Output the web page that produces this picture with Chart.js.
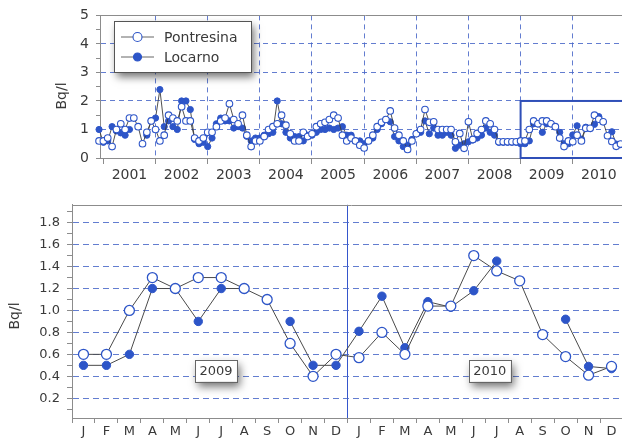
<!DOCTYPE html>
<html>
<head>
<meta charset="utf-8">
<script src="https://cdn.jsdelivr.net/npm/chart.js@4.4.0/dist/chart.umd.min.js"></script>
<style>
  html, body { margin: 0; padding: 0; background: #fff; width: 622px; height: 439px; overflow: hidden; }
  .panel { position: absolute; left: 0; width: 630px; }
  #overview-wrap { top: 0; height: 190px; }
  #detail-wrap { top: 190px; height: 249px; }
</style>
</head>
<body>
<div class="panel" id="overview-wrap"><canvas id="overview"></canvas></div>
<div class="panel" id="detail-wrap"><canvas id="detail"></canvas></div>
<script>
// ---- data (Bq/l, monthly) ----
const seriesNames = ['Pontresina', 'Locarno'];
const overviewYears = ['2001', '2002', '2003', '2004', '2005', '2006', '2007', '2008', '2009', '2010'];
const overviewYLabels = ['0', '1', '2', '3', '4', '5'];
const monthLetters = ['J', 'F', 'M', 'A', 'M', 'J', 'J', 'A', 'S', 'O', 'N', 'D'];
const detailYLabels = ['0.2', '0.4', '0.6', '0.8', '1.0', '1.2', '1.4', '1.6', '1.8'];

// Dec 2000 .. Dec 2008
const pontresinaHistory = [
  0.6,
  0.6, 0.7, 0.4, 1.0, 1.2, 1.0, 1.4, 1.4, 1.1, 0.5, 0.9, 1.3,
  1.0, 0.6, 0.8, 1.5, 1.4, 1.3, 1.8, 1.3, 1.3, 0.7, 0.6, 0.7,
  0.9, 0.9, 1.1, 1.3, 1.4, 1.9, 1.35, 1.2, 1.5, 0.8, 0.4, 0.6,
  0.6, 0.75, 1.0, 1.1, 1.2, 1.5, 1.15, 0.85, 0.6, 0.6, 0.9, 0.75,
  0.85, 1.1, 1.2, 1.25, 1.35, 1.5, 1.4, 0.8, 0.6, 0.7, 0.6, 0.45,
  0.35, 0.6, 0.8, 1.1, 1.25, 1.35, 1.65, 1.05, 0.8, 0.6, 0.3, 0.6,
  0.85, 1.0, 1.7, 1.25, 1.27, 1.0, 1.0, 1.0, 1.0, 0.57, 0.86, 0.34,
  1.27, 0.65, 0.86, 1.0, 1.3, 1.2, 1.0, 0.57, 0.57, 0.57, 0.57, 0.57
];
const locarnoHistory = [
  1.0,
  0.55, 0.6, 1.1, 0.95, 0.88, 0.8, 1.0, null, null, null, 0.8, 1.3,
  1.4, 2.4, 1.1, 1.3, 1.1, 1.0, 2.0, 2.0, 1.7, 0.65, 0.5, 0.55,
  0.4, 0.7, 1.2, 1.4, 1.3, 1.3, 1.05, 1.1, 1.05, 0.76, 0.6, 0.7,
  0.7, 0.8, 0.85, 0.9, 2.0, 1.2, 0.9, 0.7, 0.75, 0.75, 0.6, 0.8,
  0.8, 0.9, 1.0, 1.0, 1.05, 1.0, 1.05, 1.1, 0.8, 0.8, 0.6, 0.6,
  0.5, 0.6, 0.7, 1.0, 1.2, 1.35, 1.27, 0.75, 0.6, 0.4, 0.45, 0.65,
  0.85, 0.9, 1.3, 0.85, 1.05, 0.8, 0.8, 0.9, 0.8, 0.34, 0.45, 0.5,
  0.57, 0.63, 0.7, 0.8, 1.05, 0.9, 0.8, 0.55, 0.55, 0.55, 0.55, 0.55
];
const pontresina2009 = [0.6, 0.6, 1.0, 1.3, 1.2, 1.3, 1.3, 1.2, 1.1, 0.7, 0.4, 0.6];
const locarno2009 = [0.5, 0.5, 0.6, 1.2, 1.2, 0.9, 1.2, 1.2, null, 0.9, 0.5, 0.5];
const pontresina2010 = [0.57, 0.8, 0.6, 1.04, 1.04, 1.5, 1.36, 1.27, 0.78, 0.58, 0.41, 0.49];
const locarno2010 = [0.81, 1.13, 0.66, 1.08, 1.03, 1.18, 1.45, null, null, 0.92, 0.49, 0.47];

const pontresinaAll = [...pontresinaHistory, ...pontresina2009, ...pontresina2010];
const locarnoAll = [...locarnoHistory, ...locarno2009, ...locarno2010];

// ---- style ----
const fontFamily = '"DejaVu Sans", Verdana, sans-serif';
const textColor = '#3a3a3a';
const axisGray = '#8c8c8c';
const markerBlue = '#2d55c8';
const lineGray = '#3c3c3c';
const gridBlue = 'rgba(72, 102, 200, 0.85)';

// month n after Dec 2000 -> decimal year (month start)
function toPoints(values) {
  return values.map((v, i) => ({ x: 2000 + (11 + i) / 12, y: v }));
}

function sideTitle(id, text, x, y) {
  return {
    id,
    afterDraw(chart) {
      const ctx = chart.ctx;
      ctx.save();
      ctx.translate(x, y);
      ctx.rotate(-Math.PI / 2);
      ctx.font = '14px ' + fontFamily;
      ctx.fillStyle = textColor;
      ctx.textAlign = 'center';
      ctx.textBaseline = 'middle';
      ctx.fillText(text, 0, 0);
      ctx.restore();
    }
  };
}

const topFrame = {
  id: 'topFrame',
  beforeDatasetsDraw(chart) {
    const { ctx, chartArea } = chart;
    ctx.save();
    ctx.strokeStyle = axisGray;
    ctx.lineWidth = 1;
    ctx.beginPath();
    ctx.moveTo(chartArea.left, Math.round(chartArea.top) + 0.5);
    ctx.lineTo(chartArea.right + 10, Math.round(chartArea.top) + 0.5);
    ctx.stroke();
    ctx.restore();
  }
};

// blue frame around 2009-2010 in the overview
const highlight = {
  id: 'highlight',
  beforeDatasetsDraw(chart) {
    const { ctx, chartArea, scales } = chart;
    const x0 = scales.x.getPixelForValue(2009);
    const yTop = scales.y.getPixelForValue(2);
    const yBottom = scales.y.getPixelForValue(0);
    ctx.save();
    ctx.strokeStyle = '#2f4fb8';
    ctx.lineWidth = 2;
    ctx.strokeRect(x0, yTop, chartArea.right + 20 - x0, yBottom - yTop);
    ctx.restore();
  }
};

function drawMarker(ctx, x, y, filled) {
  ctx.beginPath();
  ctx.arc(x, y, filled ? 4 : 4.5, 0, Math.PI * 2);
  ctx.fillStyle = filled ? markerBlue : '#fff';
  ctx.fill();
  ctx.lineWidth = 1.1;
  ctx.strokeStyle = markerBlue;
  ctx.stroke();
}

const boxLegend = {
  id: 'boxLegend',
  afterDraw(chart) {
    const ctx = chart.ctx;
    ctx.save();
    ctx.shadowColor = 'rgba(0,0,0,0.55)';
    ctx.shadowBlur = 8;
    ctx.shadowOffsetX = 3;
    ctx.shadowOffsetY = 5;
    ctx.fillStyle = '#fff';
    ctx.fillRect(114, 21, 137, 51);
    ctx.restore();
    ctx.save();
    ctx.strokeStyle = '#555';
    ctx.lineWidth = 1;
    ctx.strokeRect(114.5, 21.5, 137, 51);
    seriesNames.forEach((name, i) => {
      const y = 37 + i * 20;
      ctx.strokeStyle = '#666';
      ctx.lineWidth = 1;
      ctx.beginPath();
      ctx.moveTo(121, y);
      ctx.lineTo(154, y);
      ctx.stroke();
      drawMarker(ctx, 137.5, y, i === 1);
      ctx.fillStyle = textColor;
      ctx.font = '14px ' + fontFamily;
      ctx.textAlign = 'left';
      ctx.textBaseline = 'middle';
      ctx.fillText(name, 164, y + 1);
    });
    ctx.restore();
  }
};

const yearBoxes = {
  id: 'yearBoxes',
  afterDatasetsDraw(chart) {
    const { ctx, scales } = chart;
    [[0, 5.77], [1, 17.7]].forEach(([k, pos]) => {
      const cx = scales.x.getPixelForValue(pos);
      const cy = scales.y.getPixelForValue(0.45);
      const w = 42, h = 22;
      ctx.save();
      ctx.shadowColor = 'rgba(0,0,0,0.55)';
      ctx.shadowBlur = 8;
      ctx.shadowOffsetX = 3;
      ctx.shadowOffsetY = 5;
      ctx.fillStyle = '#fff';
      ctx.fillRect(cx - w / 2, cy - h / 2, w, h);
      ctx.restore();
      ctx.save();
      ctx.strokeStyle = '#666';
      ctx.lineWidth = 1;
      ctx.strokeRect(Math.round(cx - w / 2) + 0.5, Math.round(cy - h / 2) + 0.5, w, h);
      ctx.fillStyle = textColor;
      ctx.font = '13px ' + fontFamily;
      ctx.textAlign = 'center';
      ctx.textBaseline = 'middle';
      ctx.fillText(overviewYears[8 + k], cx, cy + 1);
      ctx.restore();
    });
  }
};

// ---- overview chart (2001-2010) ----
const overviewXTicks = [];
overviewYears.forEach(y => { overviewXTicks.push(+y, +y + 0.5); });
overviewXTicks.push(+overviewYears[overviewYears.length - 1] + 1);
const overviewYTicks = [];
overviewYLabels.forEach(l => { overviewYTicks.push(+l); if (+l < 5) overviewYTicks.push(+l + 0.5); });

new Chart(document.getElementById('overview'), {
  type: 'line',
  data: {
    datasets: [
      {
        label: seriesNames[0], data: toPoints(pontresinaAll), clip: false,
        borderColor: lineGray, borderWidth: 0.9, tension: 0, spanGaps: false,
        pointRadius: 3.3, pointBackgroundColor: '#fff', pointBorderColor: markerBlue, pointBorderWidth: 1.1
      },
      {
        label: seriesNames[1], data: toPoints(locarnoAll), clip: false,
        borderColor: lineGray, borderWidth: 0.9, tension: 0, spanGaps: false,
        pointRadius: 3.1, pointBackgroundColor: markerBlue, pointBorderColor: markerBlue, pointBorderWidth: 1
      }
    ]
  },
  options: {
    responsive: true,
    maintainAspectRatio: false,
    animation: false,
    devicePixelRatio: 1,
    layout: { padding: { top: 15, right: 4, left: 0, bottom: 0 } },
    plugins: { legend: { display: false }, tooltip: { enabled: false } },
    scales: {
      x: {
        type: 'linear', min: 2000.935, max: 2011,
        afterBuildTicks: s => { s.ticks = overviewXTicks.map(v => ({ value: v })); },
        afterFit: s => { s.height = 32; },
        ticks: {
          autoSkip: false, maxRotation: 0, padding: 3, color: textColor,
          font: { family: fontFamily, size: 14 },
          callback: v => Number.isInteger(v) ? '' : overviewYears[Math.floor(v) - 2001]
        },
        grid: {
          color: c => (c.tick && Number.isInteger(c.tick.value) && c.tick.value > 2001 && c.tick.value < 2011) ? gridBlue : 'transparent',
          tickColor: c => (c.tick && Number.isInteger(c.tick.value)) ? axisGray : 'transparent',
          tickLength: 6, lineWidth: 1
        },
        border: { color: axisGray, dash: [5, 4] }
      },
      y: {
        min: 0, max: 5,
        afterBuildTicks: s => { s.ticks = overviewYTicks.map(v => ({ value: v })); },
        afterFit: s => { s.width = 100; },
        ticks: {
          autoSkip: false, padding: 7, color: textColor,
          font: { family: fontFamily, size: 14 },
          callback: v => Number.isInteger(v) ? overviewYLabels[v] : ''
        },
        grid: {
          color: c => (c.tick && Number.isInteger(c.tick.value) && c.tick.value > 0 && c.tick.value < 5) ? gridBlue : 'transparent',
          tickColor: axisGray, tickLength: 4, lineWidth: 1
        },
        border: { color: axisGray, dash: [5, 4] }
      }
    }
  },
  plugins: [topFrame, highlight, boxLegend, sideTitle('overviewTitle', 'Bq/l', 62, 96)]
});

// ---- detail chart (2009-2010) ----
const detailYTicks = [];
for (let k = 1; k <= 19; k++) detailYTicks.push(k / 10);

new Chart(document.getElementById('detail'), {
  type: 'line',
  data: {
    labels: [...monthLetters, ...monthLetters],
    datasets: [
      {
        label: seriesNames[0], data: [...pontresina2009, ...pontresina2010], clip: false,
        borderColor: '#4a4a4a', borderWidth: 1, tension: 0, spanGaps: false,
        pointRadius: 5, pointBackgroundColor: '#fff', pointBorderColor: markerBlue, pointBorderWidth: 1.3
      },
      {
        label: seriesNames[1], data: [...locarno2009, ...locarno2010], clip: false,
        borderColor: '#4a4a4a', borderWidth: 1, tension: 0, spanGaps: false,
        pointRadius: 4.2, pointBackgroundColor: markerBlue, pointBorderColor: markerBlue, pointBorderWidth: 1
      }
    ]
  },
  options: {
    responsive: true,
    maintainAspectRatio: false,
    animation: false,
    devicePixelRatio: 1,
    layout: { padding: { top: 7, right: 7, left: 0, bottom: 0 } },
    plugins: { legend: { display: false }, tooltip: { enabled: false } },
    scales: {
      x: {
        type: 'category', offset: true,
        afterFit: s => { s.height = 21; },
        ticks: {
          autoSkip: false, maxRotation: 0, padding: 1, color: textColor,
          font: { family: fontFamily, size: 13 }
        },
        grid: {
          offset: true,
          color: c => c.index === 12 ? '#3556cc' : 'transparent',
          tickColor: axisGray, tickLength: 5, lineWidth: 1
        },
        border: { color: axisGray }
      },
      y: {
        min: 0.02, max: 1.963,
        afterBuildTicks: s => { s.ticks = detailYTicks.map(v => ({ value: v })); },
        afterFit: s => { s.width = 72; },
        ticks: {
          autoSkip: false, padding: 7, color: textColor,
          font: { family: fontFamily, size: 13 },
          callback: v => {
            const k = Math.round(v * 10);
            return (k % 2 === 0 && k <= 18) ? detailYLabels[k / 2 - 1] : '';
          }
        },
        grid: {
          color: c => {
            if (!c.tick) return 'transparent';
            const k = Math.round(c.tick.value * 10);
            return (k % 2 === 0 && k <= 18) ? gridBlue : 'transparent';
          },
          tickColor: axisGray, tickLength: 5, lineWidth: 1
        },
        border: { color: axisGray, dash: [6, 4] }
      }
    }
  },
  plugins: [topFrame, yearBoxes, sideTitle('detailTitle', 'Bq/l', 15, 126)]
});
</script>
</body>
</html>
